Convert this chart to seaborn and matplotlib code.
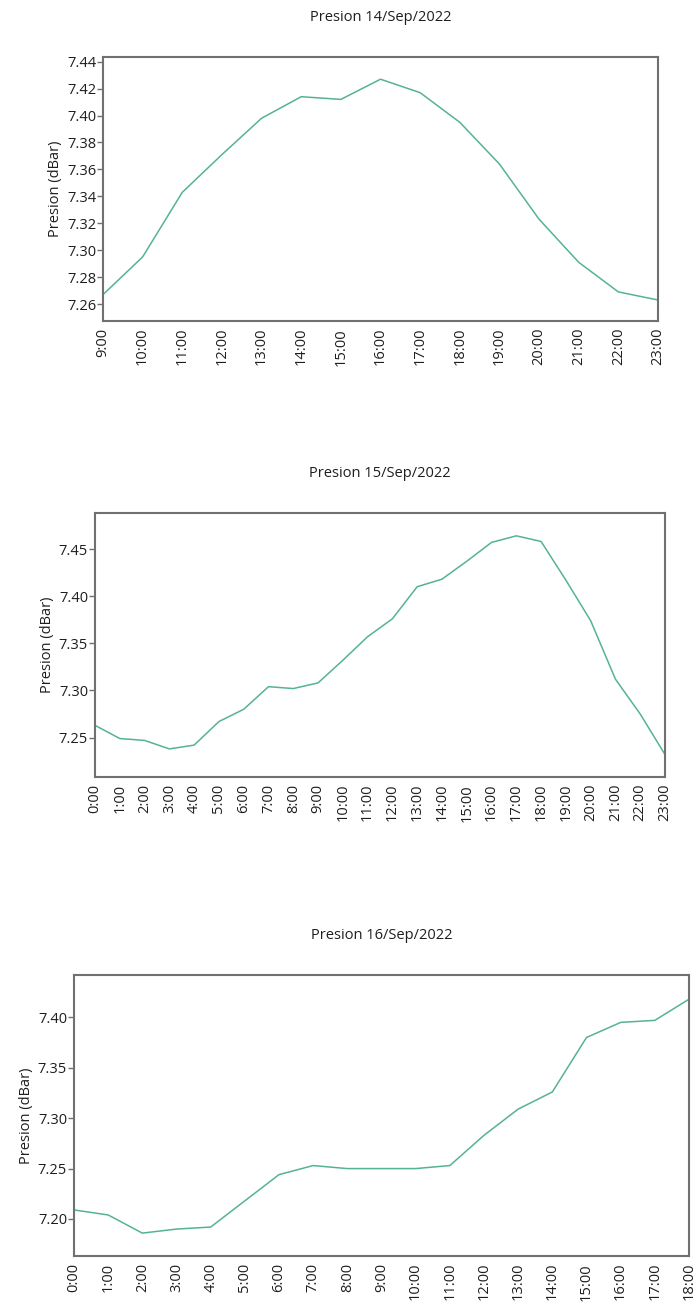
import matplotlib
matplotlib.use("Agg")
import matplotlib.pyplot as plt
import seaborn as sns
import pandas as pd

# ---- data ----
hours_14 = [f"{h}:00" for h in range(9, 24)]
pres_14 = [7.267, 7.295, 7.343, 7.371, 7.398, 7.414, 7.412, 7.427, 7.417,
           7.395, 7.364, 7.323, 7.291, 7.269, 7.263]

hours_15 = [f"{h}:00" for h in range(0, 24)]
pres_15 = [7.263, 7.249, 7.247, 7.238, 7.242, 7.267, 7.280, 7.304, 7.302,
           7.308, 7.332, 7.357, 7.376, 7.410, 7.418, 7.437, 7.457, 7.464,
           7.458, 7.417, 7.374, 7.312, 7.275, 7.232]

hours_16 = [f"{h}:00" for h in range(0, 19)]
pres_16 = [7.209, 7.204, 7.186, 7.190, 7.192, 7.218, 7.244, 7.253, 7.250,
           7.250, 7.250, 7.253, 7.283, 7.309, 7.326, 7.380, 7.395, 7.397,
           7.418]

titles = ["Presion 14/Sep/2022", "Presion 15/Sep/2022", "Presion 16/Sep/2022"]
y_ticks_14 = [7.26, 7.28, 7.30, 7.32, 7.34, 7.36, 7.38, 7.40, 7.42, 7.44]
y_ticks_15 = [7.25, 7.30, 7.35, 7.40, 7.45]
y_ticks_16 = [7.20, 7.25, 7.30, 7.35, 7.40]

sns.set_theme(style="white")
plt.rcParams['font.family'] = ['Open Sans', 'DejaVu Sans']

W, H = 694, 1303
fig = plt.figure(figsize=(W / 100, H / 100), dpi=100)

line_color = "#55b393"
frame_color = "#707070"
text_color = "#1e1e1e"

# (left, top, right, bottom) in pixels
boxes = [(103, 57, 658, 321), (95, 513, 665, 777), (74, 975, 689, 1256)]
ylims = [(7.2474, 7.4435), (7.2082, 7.4882), (7.1633, 7.442)]
datasets = [(hours_14, pres_14, y_ticks_14),
            (hours_15, pres_15, y_ticks_15),
            (hours_16, pres_16, y_ticks_16)]

for (l, t, r, b), ylim, (hrs, vals, yt), title in zip(boxes, ylims, datasets, titles):
    ax = fig.add_axes([l / W, 1 - b / H, (r - l) / W, (b - t) / H])
    df = pd.DataFrame({"pos": list(range(len(hrs))), "val": vals})
    sns.lineplot(data=df, x="pos", y="val", ax=ax, color=line_color, linewidth=1.1)
    ax.set_xlim(0, len(hrs) - 1)
    ax.set_ylim(*ylim)
    ax.set_xticks(range(len(hrs)))
    ax.set_xticklabels(hrs, rotation=90, fontsize=10.5, color=text_color)
    ax.set_yticks(yt)
    ax.set_yticklabels([f"{v:.2f}" for v in yt], fontsize=10.5, color=text_color)
    ax.tick_params(axis="x", length=0, pad=5)
    ax.tick_params(axis="y", length=4, width=1, color=frame_color, pad=1, left=True)
    ax.set_xlabel("")
    ax.set_ylabel("Presion (dBar)", fontsize=10.5, color=text_color)
    ax.yaxis.set_label_coords(-40 / (r - l), 0.5)
    for s in ax.spines.values():
        s.set_color(frame_color)
        s.set_linewidth(1.5)
    ax.set_title(title, fontsize=10.5, color=text_color, pad=26)

fig.savefig("out.png", dpi=100, facecolor="white")
